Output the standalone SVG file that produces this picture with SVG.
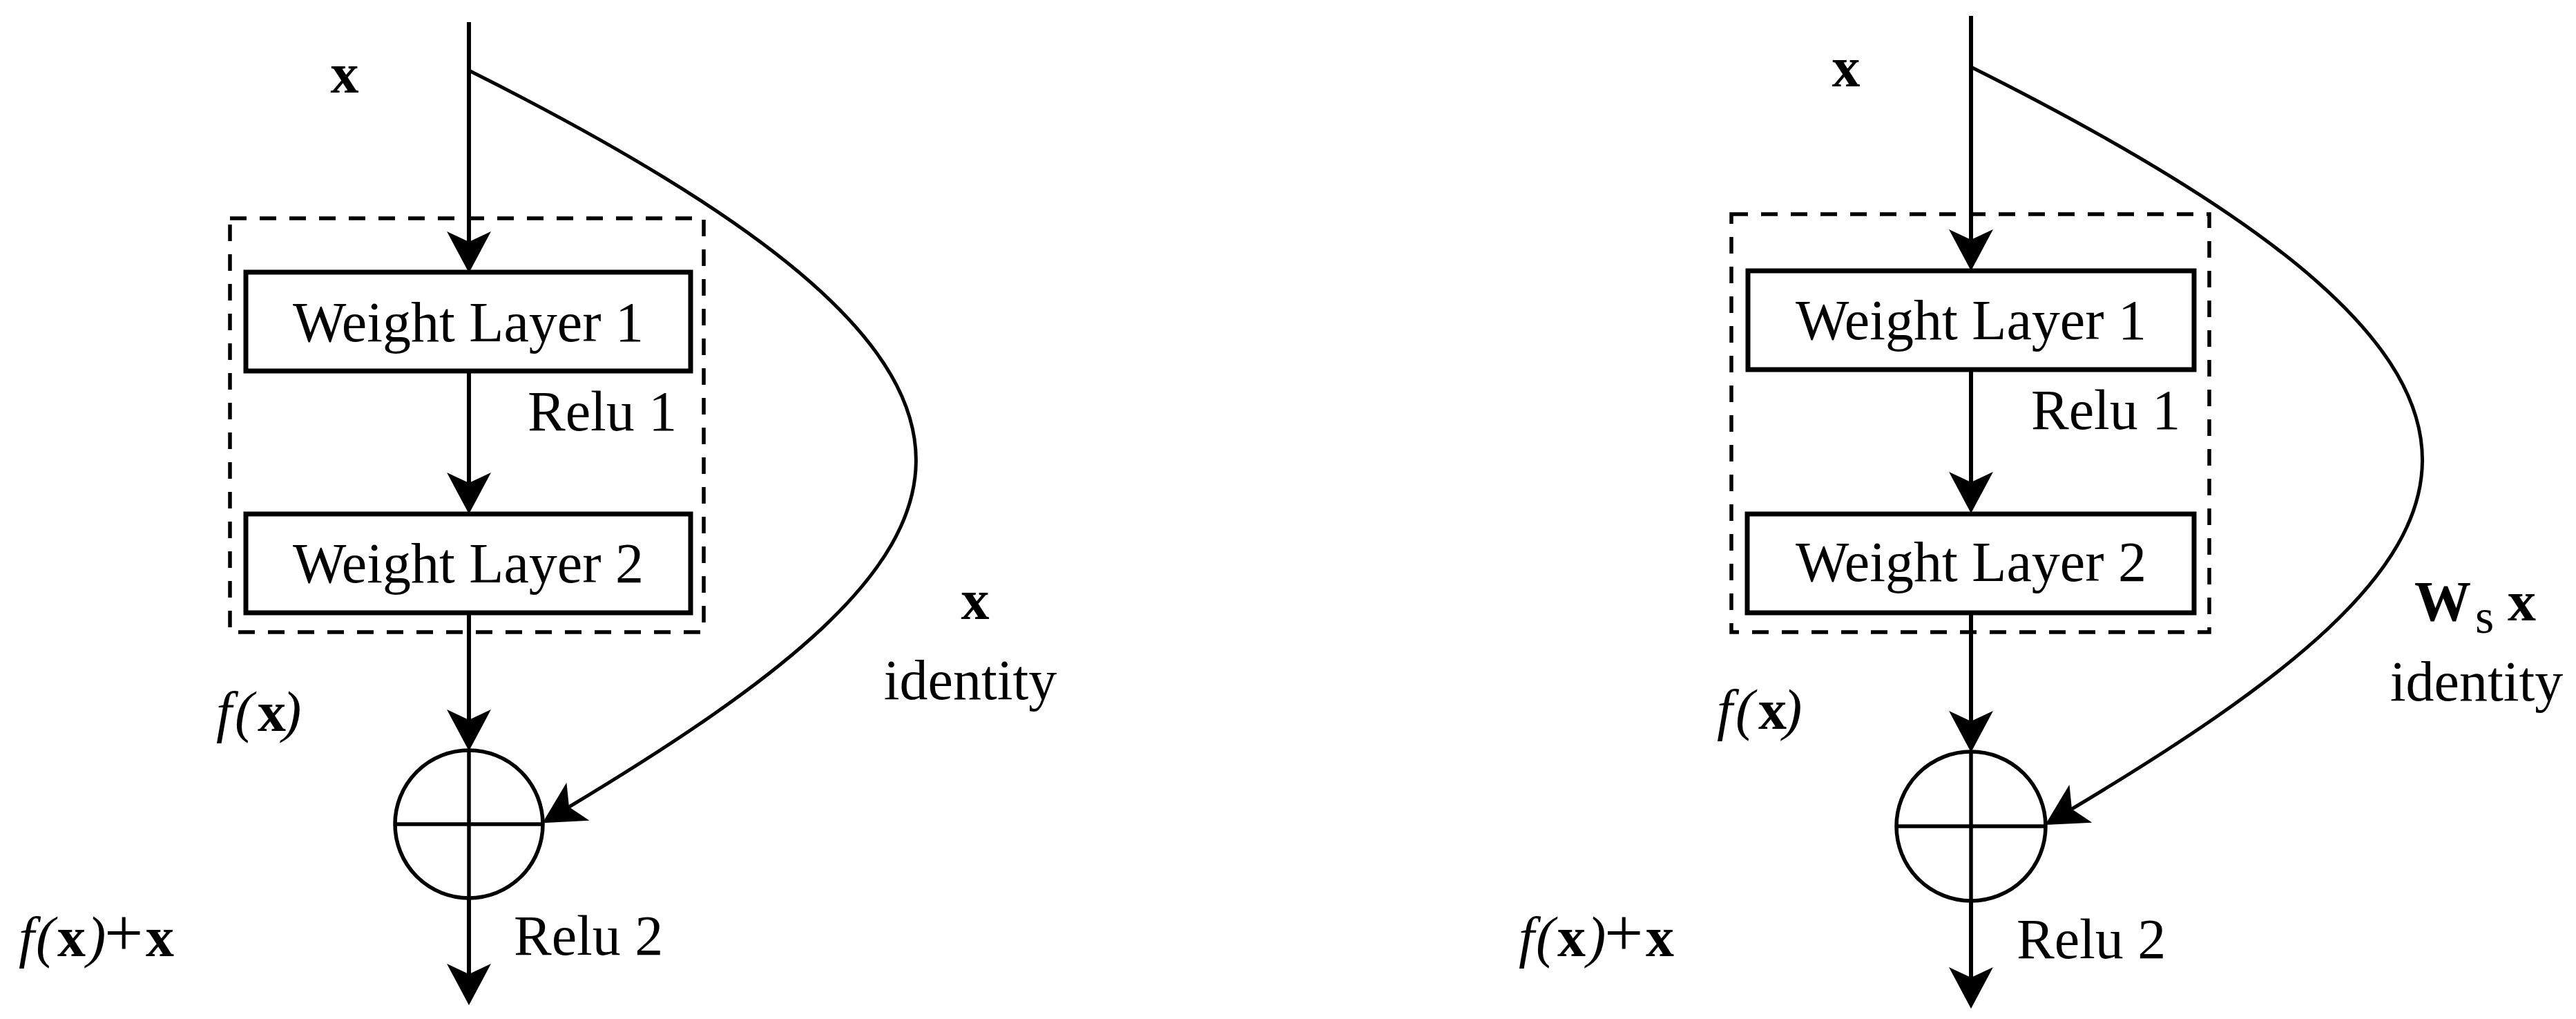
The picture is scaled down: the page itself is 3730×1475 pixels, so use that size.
<svg xmlns="http://www.w3.org/2000/svg" width="3730" height="1475" viewBox="0 0 3730 1475">
<style>
.bg{fill:#fff}
.box{fill:#fff;stroke:#000;stroke-width:7}
.dash{fill:none;stroke:#000;stroke-width:5.5;stroke-dasharray:24 19}
.ln{fill:none;stroke:#000;stroke-width:5.5}
.edge{fill:none;stroke:#000;stroke-width:6;marker-end:url(#arr)}
.curve{stroke-width:5}
.circ{fill:#fff;stroke:#000;stroke-width:5.5}
text{font-family:"Liberation Serif","Times New Roman",serif;font-size:82px;fill:#000}
.c{text-anchor:middle}
.b{font-weight:bold}
.i{font-style:italic}
.sub{font-size:70px}
.plus{font-size:100px}
</style>
<defs>
<marker id="arr" markerUnits="userSpaceOnUse" markerWidth="62" markerHeight="64" refX="15" refY="32" orient="auto">
<path d="M60,32 L0,0 L15,32 L0,64 Z" fill="#000"/>
</marker>
</defs>
<rect class="bg" x="0" y="0" width="3730" height="1475"/>

<!-- LEFT DIAGRAM -->
<g id="left-block">
<rect class="dash" x="333" y="316" width="686" height="599"/>
</g>
<g id="left-wl1">
<rect class="box" x="356" y="394" width="644" height="143"/>
<text class="c" x="678" y="494">Weight Layer 1</text>
</g>
<g id="left-wl2">
<rect class="box" x="356" y="744" width="644" height="143"/>
<text class="c" x="678" y="843">Weight Layer 2</text>
</g>
<g id="left-add">
<circle class="circ" cx="679" cy="1193" r="107"/>
<line class="ln" x1="679" y1="1086" x2="679" y2="1300"/>
<line class="ln" x1="572" y1="1193" x2="786" y2="1193"/>
</g>

<!-- RIGHT DIAGRAM -->
<g id="right-block">
<rect class="dash" x="2507" y="310" width="692" height="605"/>
</g>
<g id="right-wl1">
<rect class="box" x="2531" y="392" width="646" height="143"/>
<text class="c" x="2854" y="491">Weight Layer 1</text>
</g>
<g id="right-wl2">
<rect class="box" x="2530" y="744" width="647" height="143"/>
<text class="c" x="2854" y="841">Weight Layer 2</text>
</g>
<g id="right-add">
<circle class="circ" cx="2854" cy="1196" r="108"/>
<line class="ln" x1="2854" y1="1088" x2="2854" y2="1304"/>
<line class="ln" x1="2746" y1="1196" x2="2962" y2="1196"/>
</g>

<g id="connectors">
<path class="edge" d="M679,32 V350"/>
<path class="edge" d="M679,537 V699"/>
<path class="edge" d="M679,887 V1042"/>
<path class="edge" d="M679,1300 V1410"/>
<path class="edge curve" d="M679,102 C1595,560 1441,797 824,1168"/>
<path class="edge" d="M2854,23 V347"/>
<path class="edge" d="M2854,535 V698"/>
<path class="edge" d="M2854,887 V1044"/>
<path class="edge" d="M2854,1304 V1415"/>
<path class="edge curve" d="M2854,97 C3779,559 3623,798 3000,1171"/>
</g>

<g id="labels-left">
<text class="c b" x="499" y="134">x</text>
<text x="764" y="623">Relu 1</text>
<text x="744" y="1382">Relu 2</text>
<text y="1058"><tspan class="i" x="313">f</tspan><tspan class="i" x="340">(</tspan><tspan class="b" x="373">x</tspan><tspan class="i" x="409">)</tspan></text>
<text y="1384"><tspan class="i" x="27">f</tspan><tspan class="i" x="52">(</tspan><tspan class="b" x="83">x</tspan><tspan class="i" x="126">)</tspan><tspan class="plus" x="151">+</tspan><tspan class="b" x="211">x</tspan></text>
<text class="c b" x="1412" y="896">x</text>
<text class="c" x="1405" y="1012">identity</text>
</g>

<g id="labels-right">
<text class="c b" x="2673" y="125">x</text>
<text x="2941" y="621">Relu 1</text>
<text x="2920" y="1387">Relu 2</text>
<text y="1055"><tspan class="i" x="2486">f</tspan><tspan class="i" x="2513">(</tspan><tspan class="b" x="2546">x</tspan><tspan class="i" x="2582">)</tspan></text>
<text y="1384"><tspan class="i" x="2199">f</tspan><tspan class="i" x="2224">(</tspan><tspan class="b" x="2255">x</tspan><tspan class="i" x="2298">)</tspan><tspan class="plus" x="2323">+</tspan><tspan class="b" x="2383">x</tspan></text>
<text y="898"><tspan class="b" x="3496">W</tspan><tspan class="sub" x="3584" y="916">s</tspan><tspan class="b" x="3631" y="898">x</tspan></text>
<text class="c" x="3586" y="1014">identity</text>
</g>
</svg>
